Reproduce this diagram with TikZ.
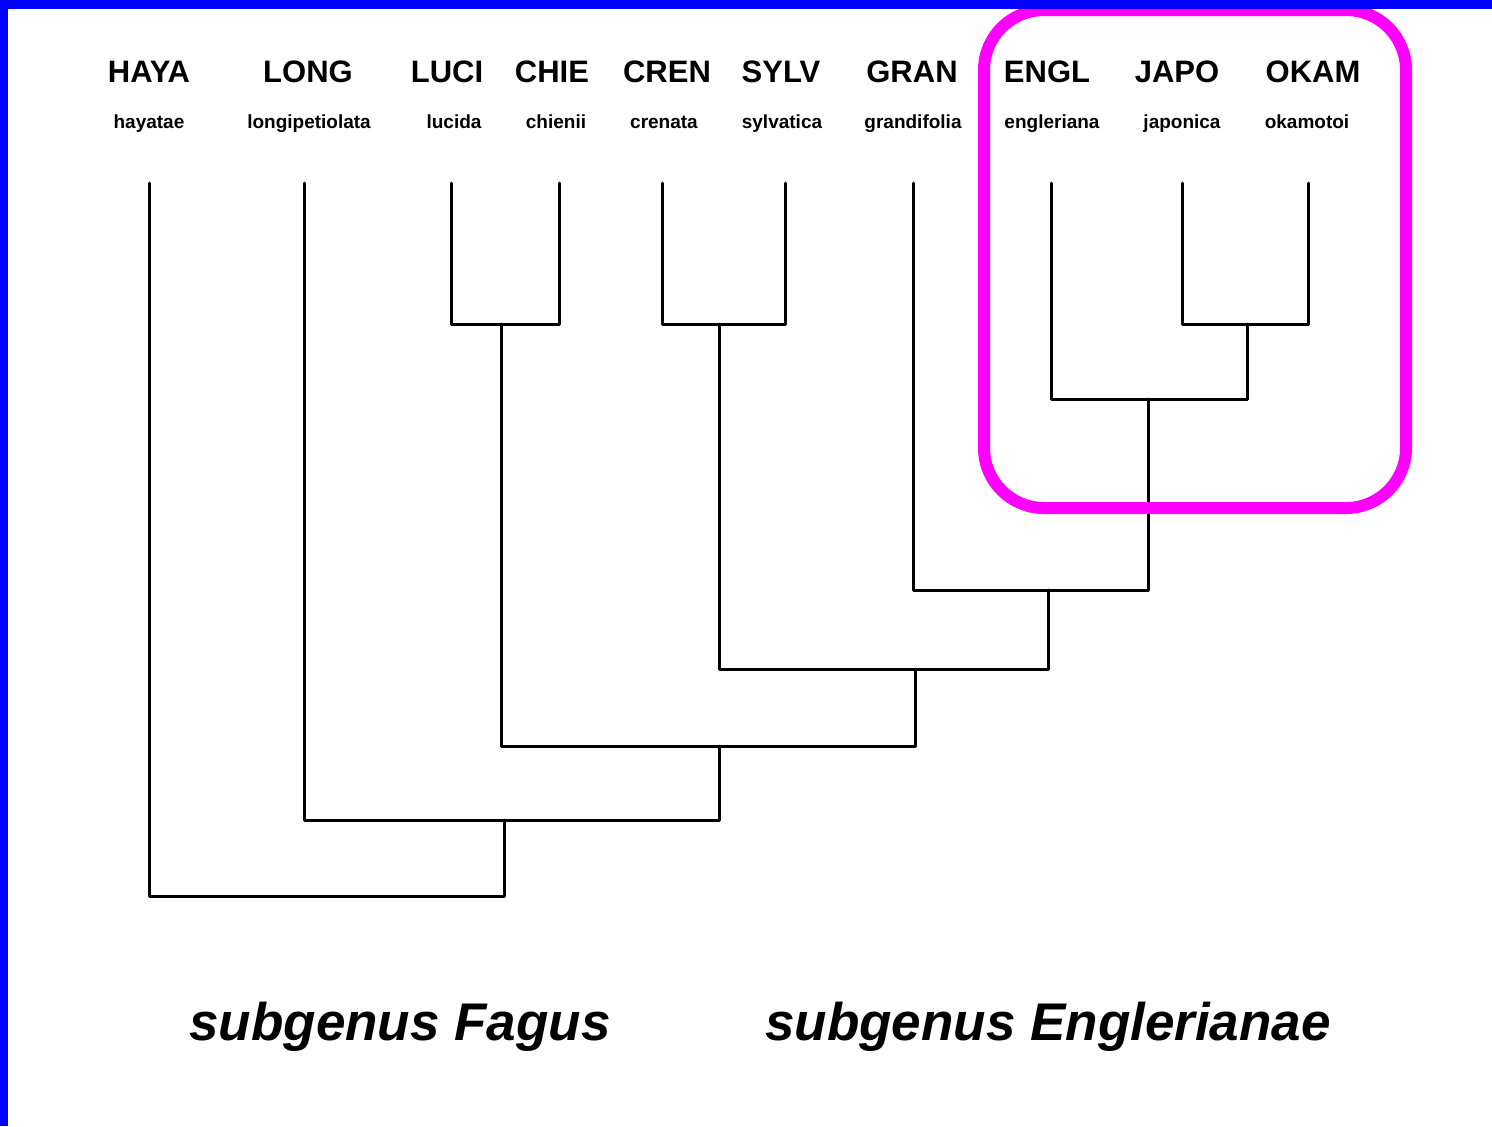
\documentclass[tikz,border=0pt]{standalone}
\usepackage{fontspec}
\setmainfont{Liberation Sans}
\definecolor{cladepink}{RGB}{255,0,255}
\definecolor{frameblue}{RGB}{0,0,255}
\begin{document}
\begin{tikzpicture}[x=0.5pt,y=-0.5pt,line join=round,line cap=round,
    code/.style={font=\bfseries\fontsize{15.5}{18}\selectfont,anchor=base},
    species/.style={font=\bfseries\fontsize{9.5}{11}\selectfont,anchor=base},
    subgenus/.style={font=\bfseries\itshape\fontsize{26.5}{30}\selectfont,anchor=base},
    branch/.style={line width=1.5pt},
    clade/.style={draw=cladepink,line width=6pt,rounded corners=30pt}]
    \def\ycode{82} \def\ysp{128} \def\ytip{183}
    \useasboundingbox (0,0) rectangle (1492,1126);
    % taxa
    \foreach \n/\xl/\xc/\c/\xs/\s in {haya/149/149/HAYA/149/hayatae,
        long/304/308/LONG/309/longipetiolata, luci/451/447/LUCI/454/lucida,
        chie/559/552/CHIE/556/chienii, cren/662/667/CREN/664/crenata,
        sylv/785/781/SYLV/782/sylvatica, gran/913/912/GRAN/913/grandifolia,
        engl/1051/1047/ENGL/1052/engleriana, japo/1182/1177/JAPO/1182/japonica,
        okam/1308/1313/OKAM/1307/okamotoi}{
        \node[code] (\n-code) at (\xc,\ycode) {\c};
        \node[species] (\n-sp) at (\xs,\ysp) {\s};
        \coordinate (\n) at (\xl,\ytip);
    }
    % inner nodes
    \coordinate (lc) at (501,324);
    \coordinate (cs) at (719,324);
    \coordinate (jo) at (1247,324);
    \coordinate (ejo) at (1148,399);
    \coordinate (gej) at (1048,590);
    \coordinate (n4) at (915,669);
    \coordinate (n3) at (719,746);
    \coordinate (n2) at (504,820);
    \coordinate (root) at (326,896);
    \draw[branch] (luci) |- (lc) -| (chie);
    \draw[branch] (cren) |- (cs) -| (sylv);
    \draw[branch] (japo) |- (jo) -| (okam);
    \draw[branch] (engl) |- (ejo) -| (jo);
    \draw[branch] (gran) |- (gej) -| (ejo);
    \draw[branch] (cs) |- (n4) -| (gej);
    \draw[branch] (lc) |- (n3) -| (n4);
    \draw[branch] (long) |- (n2) -| (n3);
    \draw[branch] (haya) |- (root) -| (n2);
    \draw[clade] (984,10) rectangle (1406,508);
    \node[subgenus] (fagus) at (400,1040) {subgenus Fagus};
    \node[subgenus] (englerianae) at (1048,1040) {subgenus Englerianae};
    % frame
    \fill[frameblue] (0,0) rectangle (1492,9);
    \fill[frameblue] (0,0) rectangle (8,1126);
\end{tikzpicture}
\end{document}
